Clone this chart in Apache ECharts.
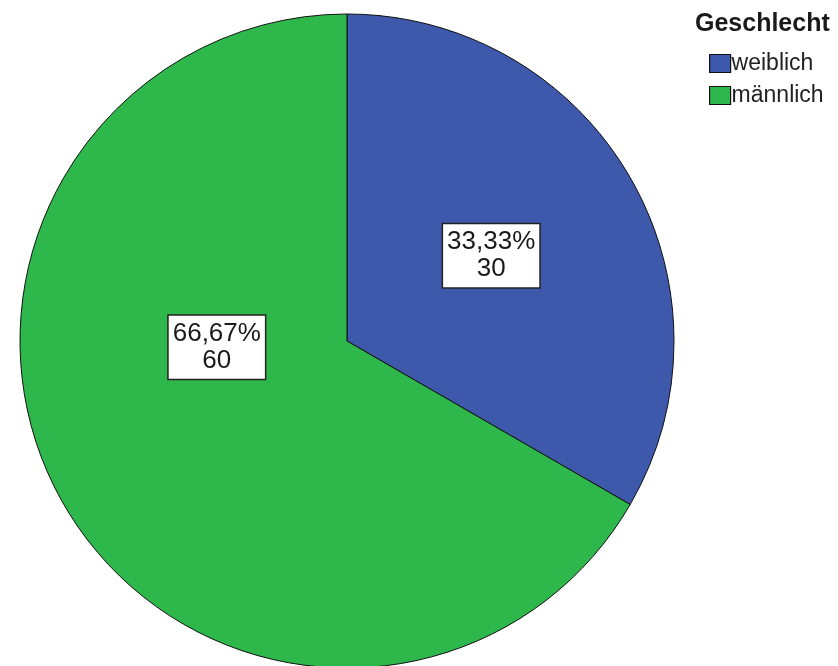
<!DOCTYPE html>
<html>
<head>
<meta charset="utf-8">
<script src="https://cdn.jsdelivr.net/npm/echarts@6/dist/echarts.min.js"></script>
<style>
html,body{margin:0;padding:0;background:#fff;}
#c{width:838px;height:666px;}
</style>
</head>
<body>
<div id="c"></div>
<script>
const legendTitle = 'Geschlecht';
const categories = ['weiblich', 'männlich'];
const counts = [30, 60];
const percentLabels = ['33,33%', '66,67%'];
const colors = ['#3E58AC', '#2EB84B'];
const labelOffsets = [[0, -2], [14, -77]];

const chart = echarts.init(document.getElementById('c'), null, {renderer: 'canvas'});
const FONT = 'Arial, "Liberation Sans", sans-serif';

chart.setOption({
  animation: false,
  backgroundColor: '#ffffff',
  title: {
    text: legendTitle,
    left: 690,
    top: 7,
    textStyle: {fontFamily: FONT, fontWeight: 'bold', fontSize: 25, color: '#1a1a1a'}
  },
  legend: {
    orient: 'vertical',
    left: 704,
    top: 47,
    itemWidth: 21,
    itemHeight: 18,
    itemGap: 9,
    icon: 'rect',
    data: categories,
    itemStyle: {borderColor: '#111', borderWidth: 1.2},
    textStyle: {fontFamily: FONT, fontSize: 23, color: '#222', padding: [0, 0, 0, -4]}
  },
  series: [{
    type: 'pie',
    center: [347, 341],
    radius: [0, 327],
    startAngle: 90,
    clockwise: true,
    silent: true,
    itemStyle: {borderColor: '#111', borderWidth: 1},
    labelLine: {show: false},
    label: {
      show: true,
      position: 'inside',
      fontFamily: FONT,
      fontSize: 26,
      lineHeight: 27,
      color: '#1a1a1a',
      backgroundColor: '#ffffff',
      borderColor: '#222',
      borderWidth: 1.5,
      padding: [5, 4, 4, 4],
      formatter: function (p) { return percentLabels[p.dataIndex] + '\n' + p.value; }
    },
    data: categories.map(function (name, i) {
      return {
        name: name,
        value: counts[i],
        itemStyle: {color: colors[i]},
        label: {offset: labelOffsets[i]}
      };
    })
  }]
});
</script>
</body>
</html>
